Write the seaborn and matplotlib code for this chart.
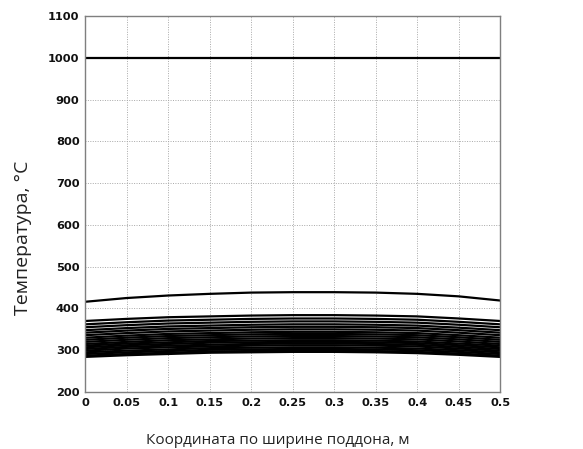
import numpy as np
import pandas as pd
import matplotlib
matplotlib.use("Agg")
import matplotlib.pyplot as plt
import seaborn as sns

# Coordinates across the pallet width, m
x_coord = [0.0, 0.05, 0.1, 0.15, 0.2, 0.25, 0.3, 0.35, 0.4, 0.45, 0.5]

# Temperature profiles, °C
curve_00 = [1000, 1000, 1000, 1000, 1000, 1000, 1000, 1000, 1000, 1000, 1000]
curve_01 = [416, 425, 431, 435, 438, 439, 439, 438, 435, 429, 419]
curve_02 = [370, 375, 379, 381, 383, 384, 384, 383, 381, 376, 370]
curve_03 = [362, 367, 371, 373, 375, 376, 376, 375, 373, 368, 362]
curve_04 = [355, 360, 364, 366, 368, 369, 369, 368, 366, 361, 355]
curve_05 = [348, 353, 357, 359, 361, 362, 362, 361, 359, 354, 348]
curve_06 = [342, 347, 351, 353, 355, 356, 356, 355, 353, 348, 342]
curve_07 = [336, 341, 345, 347, 349, 350, 350, 349, 347, 342, 336]
curve_08 = [330, 335, 339, 341, 343, 344, 344, 343, 341, 336, 330]
curve_09 = [325, 330, 334, 336, 338, 339, 339, 338, 336, 331, 325]
curve_10 = [320, 325, 329, 331, 333, 334, 334, 333, 331, 326, 320]
curve_11 = [315, 320, 324, 326, 328, 329, 329, 328, 326, 321, 315]
curve_12 = [311, 316, 319, 322, 323, 324, 324, 323, 321, 316, 311]
curve_13 = [307, 312, 315, 318, 319, 320, 320, 319, 317, 312, 307]
curve_14 = [303, 308, 311, 313, 315, 316, 316, 315, 313, 308, 303]
curve_15 = [299, 304, 307, 309, 311, 312, 312, 311, 309, 304, 299]
curve_16 = [295, 299, 302, 305, 306, 307, 307, 306, 304, 300, 295]
curve_17 = [291, 295, 298, 301, 302, 303, 303, 302, 300, 296, 291]
curve_18 = [287, 291, 294, 297, 298, 299, 299, 298, 296, 292, 287]
curve_19 = [284, 288, 291, 294, 295, 296, 296, 295, 293, 289, 284]

curves = [curve_00, curve_01, curve_02, curve_03, curve_04, curve_05, curve_06,
          curve_07, curve_08, curve_09, curve_10, curve_11, curve_12, curve_13,
          curve_14, curve_15, curve_16, curve_17, curve_18, curve_19]

x_ticks = [0, 0.05, 0.1, 0.15, 0.2, 0.25, 0.3, 0.35, 0.4, 0.45, 0.5]
x_tick_labels = ["0", "0.05", "0.1", "0.15", "0.2", "0.25", "0.3", "0.35", "0.4", "0.45", "0.5"]
y_ticks = [200, 300, 400, 500, 600, 700, 800, 900, 1000, 1100]

x_label = "Координата по ширине поддона, м"
y_label = "Температура, °С"

rows = []
for i, c in enumerate(curves):
    for xv, tv in zip(x_coord, c):
        rows.append({"x": xv, "T": tv, "curve": i})
df = pd.DataFrame(rows)

sns.set_theme(style="white")
plt.rcParams['font.family'] = ['DejaVu Sans']

fig = plt.figure(figsize=(5.83, 4.49), dpi=100)
ax = fig.add_axes([0.146, 0.127, 0.712, 0.837])

sns.lineplot(data=df, x="x", y="T", units="curve", estimator=None,
             color="black", linewidth=1.6, ax=ax, legend=False)

ax.set_xlim(0, 0.5)
ax.set_ylim(200, 1100)
ax.set_xticks(x_ticks)
ax.set_xticklabels(x_tick_labels, fontsize=8.2, fontweight="bold", color="#111111")
ax.set_yticks(y_ticks)
ax.set_yticklabels([str(v) for v in y_ticks], fontsize=8.2, fontweight="bold", color="#111111")
ax.tick_params(length=0, pad=4)

ax.grid(True, color="#a8a8a8", linestyle=(0, (1, 1.5)), linewidth=0.7)
for s in ax.spines.values():
    s.set_color("#7f7f7f")
    s.set_linewidth(1.0)

ax.set_xlabel(x_label, fontsize=11, family=["Open Sans", "DejaVu Sans"], color="#222222")
ax.set_ylabel(y_label, fontsize=14, family=["Open Sans", "DejaVu Sans"], color="#222222")
ax.xaxis.set_label_coords(0.465, -0.11)
ax.yaxis.set_label_coords(-0.128, 0.41)

fig.savefig("out.png", dpi=100)
